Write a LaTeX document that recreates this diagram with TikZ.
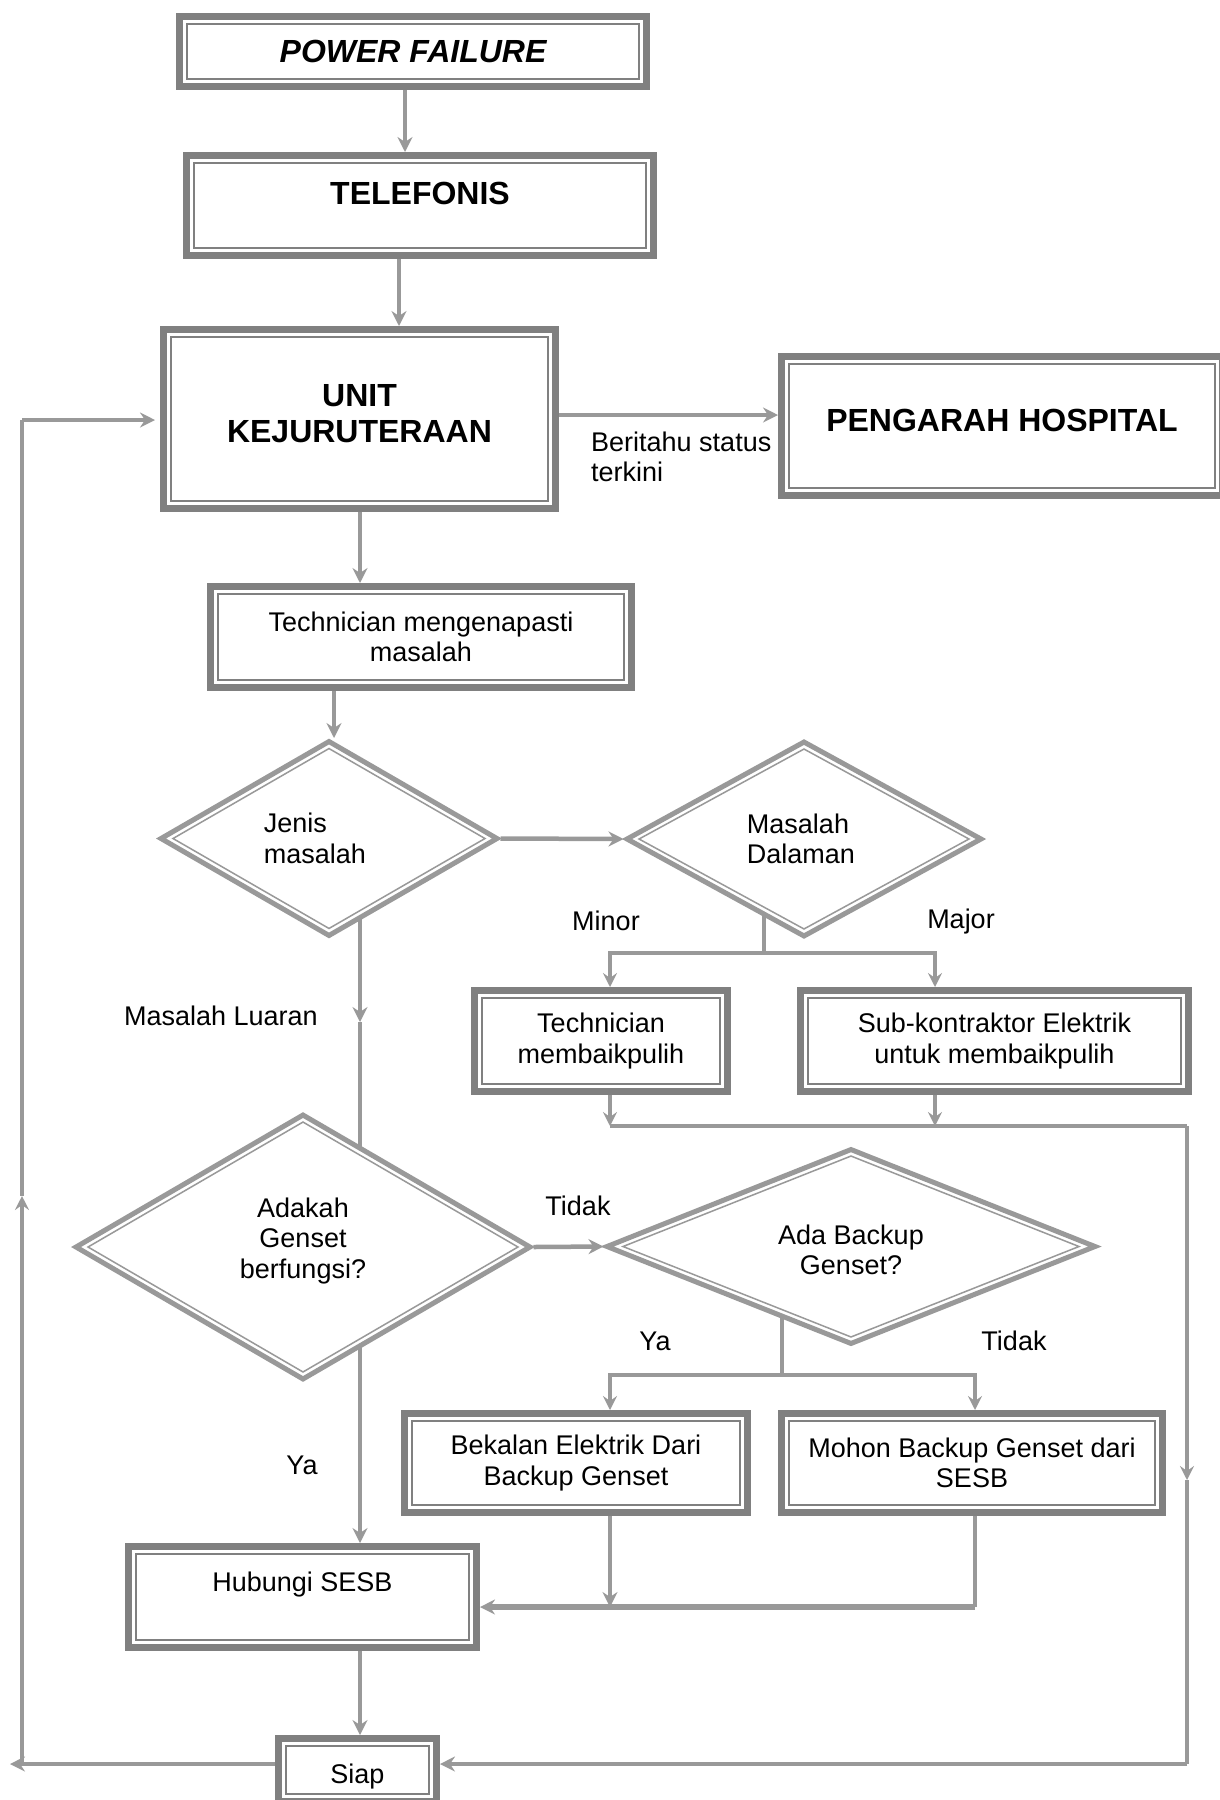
\documentclass[tikz,border=0pt]{standalone}
\usepackage{fontspec}
\setmainfont{Liberation Sans}
\usetikzlibrary{shapes.geometric, arrows.meta, backgrounds}

\definecolor{frame}{HTML}{808080}
\definecolor{flow}{HTML}{999999}

\newcommand{\regfont}{\fontsize{27}{30.5}\selectfont}
\newcommand{\headfont}{\fontsize{32}{36}\selectfont\bfseries}

\tikzset{
  % rectangle with a thick outer frame and a thin inner rule
  framebox/.style={rectangle, draw=frame, line width=7pt, fill=white,
    inner sep=0pt, font=\regfont,
    path picture={\draw[frame, line width=1.5pt]
      ([shift={(7.5pt,7.5pt)}]path picture bounding box.south west) rectangle
      ([shift={(-7.5pt,-7.5pt)}]path picture bounding box.north east);}},
  % decision diamond with a thick outer line and a thin inner line
  decision/.style 2 args={diamond, draw=flow, line width=5pt, fill=white,
    inner sep=0pt, shape aspect=2.5, font=\regfont,
    path picture={\draw[flow, line width=1.5pt]
      ([yshift=-#2]path picture bounding box.north) --
      ([xshift=-#1]path picture bounding box.east) --
      ([yshift=#2]path picture bounding box.south) --
      ([xshift=#1]path picture bounding box.west) -- cycle;}},
  flowline/.style={draw=flow, line width=4.5pt},
  thinline/.style={draw=flow, line width=3.5pt},
  arr/.style={flowline, -{Stealth[length=15pt, width=15pt, inset=5pt]}},
  thinarr/.style={thinline, -{Stealth[length=14pt, width=14pt, inset=5pt]}},
  lbl/.style={font=\regfont, inner sep=0pt}
}

\begin{document}
\begin{tikzpicture}[x=1pt, y=-1pt]
\useasboundingbox (0,0) rectangle (1220,1800);
\clip (0,0) rectangle (1220,1800);

% ---------- boxes ----------
\node[framebox, minimum width=467pt, minimum height=70pt, font=\headfont\itshape]
  (pf) at (413,51.5) {POWER FAILURE};
\node[framebox, minimum width=467pt, minimum height=100pt, font=\headfont, text depth=25pt]
  (tel) at (420,205.5) {TELEFONIS};
\node[framebox, minimum width=392pt, minimum height=179pt, font=\headfont, align=center, text depth=12pt]
  (unit) at (359.5,419) {UNIT\\KEJURUTERAAN};
\node[framebox, minimum width=441pt, minimum height=139pt, font=\headfont, text depth=12pt]
  (peng) at (1002,426) {PENGARAH HOSPITAL};
\node[framebox, minimum width=421pt, minimum height=101pt, align=center]
  (tech1) at (421,637) {Technician mengenapasti\\masalah};
\node[framebox, minimum width=253pt, minimum height=101pt, align=center]
  (tech2) at (601,1041) {Technician\\membaikpulih};
\node[framebox, minimum width=388pt, minimum height=101pt, align=center]
  (sub) at (994.5,1041) {Sub-kontraktor Elektrik\\untuk membaikpulih};
\node[framebox, minimum width=343pt, minimum height=99pt, align=center]
  (bek) at (576,1463) {Bekalan Elektrik Dari\\Backup Genset};
\node[framebox, minimum width=381pt, minimum height=99pt, align=center]
  (mohon) at (972,1463) {Mohon Backup Genset dari\\SESB};
\node[framebox, minimum width=348pt, minimum height=101pt, text depth=30pt]
  (hub) at (302.5,1597) {Hubungi SESB};
\node[framebox, minimum width=158pt, minimum height=63pt, text height=33pt]
  (siap) at (357.5,1770) {Siap};

% ---------- decisions ----------
\node[decision={12pt}{7pt}, minimum width=338pt, minimum height=196pt, align=left]
  (jenis) at (329,838.5) {Jenis\\masalah\hspace*{28pt}};
\node[decision={12pt}{7pt}, minimum width=356pt, minimum height=196pt, align=left]
  (masalah) at (804,839) {Masalah\\Dalaman\hspace*{6pt}};
\node[decision={12pt}{7pt}, minimum width=456pt, minimum height=266pt, align=center, text depth=17.7pt]
  (adakah) at (303,1247) {Adakah\\Genset\\berfungsi?};
\node[decision={16pt}{6.5pt}, minimum width=490pt, minimum height=196pt, align=center, text height=57pt]
  (adab) at (851,1246.5) {Ada Backup\\Genset?};

% ---------- labels ----------
\node[lbl, anchor=west, align=left] (beritahu) at (591,457) {Beritahu status\\terkini};
\node[lbl] (minor) at (606,921) {Minor};
\node[lbl] (major) at (961,922) {Major};
\node[lbl] (luaran) at (221,1016) {Masalah Luaran};
\node[lbl] (tidakA) at (578,1206) {Tidak};
\node[lbl] (yaA) at (655,1341) {Ya};
\node[lbl] (tidakB) at (1014,1341) {Tidak};
\node[lbl] (yaB) at (302,1465) {Ya};

% ---------- routing columns and rows ----------
\coordinate (colA) at (405,0);
\coordinate (colB) at (399,0);
\coordinate (colC) at (360,0);
\coordinate (colD) at (334,0);
\coordinate (colE) at (764,0);
\coordinate (colF) at (610,0);
\coordinate (colG) at (935,0);
\coordinate (colH) at (1187,0);
\coordinate (colI) at (22,0);
\coordinate (colJ) at (782,0);
\coordinate (colK) at (975,0);
\coordinate (colTip) at (10,0);
\coordinate (rowPeng) at (0,415);
\coordinate (rowUnit) at (0,420);
\coordinate (rowM) at (0,953);
\coordinate (rowLuar) at (0,1022);
\coordinate (rowT) at (0,1126);
\coordinate (rowMidL) at (0,1196);
\coordinate (rowY) at (0,1375);
\coordinate (rowMidR) at (0,1480);
\coordinate (rowH) at (0,1607);
\coordinate (rowS) at (0,1764);

% ---------- connectors ----------
\begin{scope}[on background layer]
  \draw[arr] (pf.south -| colA) -- (tel.north -| colA);
  \draw[arr] (tel.south -| colB) -- (unit.north -| colB);
  \draw[arr] (unit.east |- rowPeng) -- (peng.west |- rowPeng);
  \draw[arr] (unit.south -| colC) -- (tech1.north -| colC);
  \draw[arr] (tech1.south -| colD) -- (jenis.north -| colD);
  \draw[arr] (jenis.east) -- (masalah.west);

  % internal problem: minor / major
  \draw[thinline] (masalah.center -| colE) -- (colE |- rowM);
  \draw[thinarr] (colE |- rowM) -| (tech2.north -| colF);
  \draw[thinarr] (colE |- rowM) -| (sub.north -| colG);
  \draw[thinarr] (tech2.south -| colF) -- (colF |- rowT);
  \draw[thinarr] (sub.south -| colG) -- (colG |- rowT);
  \draw[flowline] (colF |- rowT) -- (colH |- rowT);
  \draw[thinarr] (colH |- rowT) -- (colH |- rowMidR);
  \draw[thinline] (colH |- rowMidR) -- (colH |- rowS);
  \draw[arr] (colH |- rowS) -- (siap.east |- rowS);

  % external problem
  \draw[arr] (jenis.center -| colC) -- (colC |- rowLuar);
  \draw[arr] (colC |- rowLuar) -- (hub.north -| colC);
  \draw[arr] (adakah.east) -- (adab.west);

  % backup genset branches
  \draw[thinline] (adab.center -| colJ) -- (colJ |- rowY);
  \draw[thinarr] (colJ |- rowY) -| (bek.north -| colF);
  \draw[thinarr] (colJ |- rowY) -| (mohon.north -| colK);
  \draw[arr] (bek.south -| colF) -- (colF |- rowH);
  \draw[flowline] (mohon.south -| colK) -- (colK |- rowH);
  \draw[arr, line width=5.5pt] (colK |- rowH) -- (hub.east |- rowH);

  % ready, and back to the engineering unit
  \draw[arr] (hub.south -| colC) -- (siap.north -| colC);
  \draw[arr] (siap.west |- rowS) -- (colTip |- rowS);
  \draw[thinarr] (colI |- rowS) -- (colI |- rowMidL);
  \draw[thinline] (colI |- rowMidL) -- (colI |- rowUnit);
  \draw[arr, shorten >=5pt] (colI |- rowUnit) -- (unit.west |- rowUnit);
\end{scope}
\end{tikzpicture}
\end{document}
